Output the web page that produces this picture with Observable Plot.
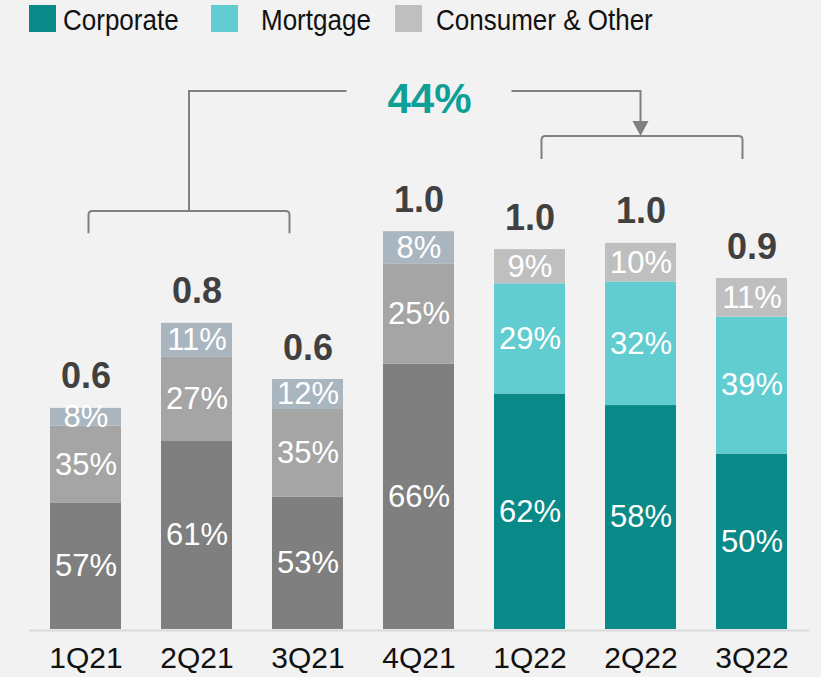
<!DOCTYPE html>
<html>
<head>
<meta charset="utf-8">
<script src="https://cdn.jsdelivr.net/npm/d3@7"></script>
<script src="https://cdn.jsdelivr.net/npm/@observablehq/plot@0.6"></script>
<style>
  html, body { margin: 0; padding: 0; background: #f2f2f2; }
  #wrap { width: 821px; height: 677px; position: relative; background: #f2f2f2; font-family: "Liberation Sans", Arial, sans-serif; }
  #legend { position: relative; width: 821px; height: 40px; }
  .sw { position: absolute; top: 5px; width: 27px; height: 27px; }
  .lt { position: absolute; top: 5px; font-size: 26px; line-height: 30px; color: #111; white-space: nowrap; transform: scaleY(1.12); transform-origin: left center; }
  svg { display: block; }
</style>
</head>
<body>
<div id="wrap">
  <div id="legend"></div>
  <div id="chart"></div>
</div>
<script>
// ---- data ----
const quarters = ["1Q21", "2Q21", "3Q21", "4Q21", "1Q22", "2Q22", "3Q22"];
const totals = [0.567, 0.785, 0.641, 1.02, 0.974, 0.99, 0.90];
const corporatePct = [57, 61, 53, 66, 62, 58, 50];
const mortgagePct = [35, 27, 35, 25, 29, 32, 39];
const consumerPct = [8, 11, 12, 8, 9, 10, 11];
const seriesNames = ["Corporate", "Mortgage", "Consumer & Other"];
const growthLabel = "44%";

// ---- styles ----
const colors2022 = ["#098a88", "#62cdd0", "#bfbfbf"];
const colors2021 = ["#7f7f7f", "#a5a5a5", "#a9b6c0"];
const font = "'Liberation Sans', Arial, sans-serif";

// legend (HTML, above the SVG)
const legendPos = [[29, 63], [211, 261], [395, 436]];
const legend = document.getElementById("legend");
seriesNames.forEach((name, k) => {
  const sw = document.createElement("div");
  sw.className = "sw";
  sw.style.left = legendPos[k][0] + "px";
  sw.style.background = colors2022[k];
  legend.appendChild(sw);
  const t = document.createElement("div");
  t.className = "lt";
  t.style.left = legendPos[k][1] + "px";
  t.textContent = name;
  legend.appendChild(t);
});

const rows = quarters.flatMap((q, i) => {
  const pcts = [corporatePct[i], mortgagePct[i], consumerPct[i]];
  const sum = d3.sum(pcts);
  const pal = q.endsWith("21") ? colors2021 : colors2022;
  return pcts.map((p, k) => ({q, k, pct: p, value: totals[i] * p / sum, fill: pal[k]}));
});
const totalRows = quarters.map((q, i) => ({q, total: totals[i]}));

// annotation (brackets + arrow), positioned through the plot's scales
function annotation(index, scales) {
  const x = scales.x, y = scales.y;
  let bw = typeof x.bandwidth === "function" ? x.bandwidth() : x.bandwidth;
  if (!(bw > 0)) bw = (x(quarters[1]) - x(quarters[0])) * 0.64;
  const cx = q => x(q) + bw / 2;
  const r = 4;
  const g = d3.create("svg:g").attr("fill", "none").attr("stroke", "#808080").attr("stroke-width", 2);
  // left bracket over 2021 Q1-Q3
  const la = cx("1Q21") + 3, lb = cx("3Q21") - 18, lm = (la + lb) / 2;
  const lY = y(1.072), lT = y(1.015);
  g.append("path").attr("d", `M${la},${lT}L${la},${lY + r}Q${la},${lY} ${la + r},${lY}L${lb - r},${lY}Q${lb},${lY} ${lb},${lY + r}L${lb},${lT}`);
  const topY = y(1.3795);
  const tx = cx("4Q21") + 11;
  g.append("path").attr("d", `M${lm},${lY}L${lm},${topY}L${tx - 83},${topY}`);
  // right part with arrow
  const ax = cx("2Q22");
  const rY = y(1.264), rT = y(1.205);
  g.append("path").attr("d", `M${tx + 82},${topY}L${ax},${topY}L${ax},${rY - 14}`);
  g.append("path").attr("fill", "#808080").attr("stroke", "none")
    .attr("d", `M${ax - 8},${rY - 15}L${ax + 8},${rY - 15}L${ax},${rY}Z`);
  const ra = cx("1Q22") + 12, rb = cx("3Q22") - 9;
  g.append("path").attr("d", `M${ra},${rT}L${ra},${rY + r}Q${ra},${rY} ${ra + r},${rY}L${rb - r},${rY}Q${rb},${rY} ${rb},${rY + r}L${rb},${rT}`);
  g.append("text").attr("x", tx).attr("y", y(1.323)).attr("text-anchor", "middle")
    .attr("fill", "#0e9f97").attr("stroke", "none").attr("font-size", 42).attr("font-weight", "bold")
    .attr("font-family", font).text(growthLabel);
  return g.node();
}

const chart = Plot.plot({
  width: 821,
  height: 637,
  marginTop: 4,
  marginBottom: 48,
  marginLeft: 29,
  marginRight: 12,
  style: {background: "#f2f2f2", fontFamily: font, color: "#111", overflow: "visible"},
  x: {domain: quarters, paddingInner: 0.36, paddingOuter: 0.18, label: null},
  y: {domain: [0, 1.5], axis: null},
  color: {type: "identity"},
  marks: [
    Plot.barY(rows, {x: "q", y: "value", fill: "fill"}),
    Plot.ruleY([0], {stroke: "#d9d9d9", strokeWidth: 2, dy: 1}),
    Plot.text(rows, Plot.stackY({x: "q", y: "value", text: d => d.pct + "%", fill: "white", fontSize: 31})),
    Plot.text(totalRows, {x: "q", y: "total", text: d => d.total.toFixed(1), dy: -20, lineAnchor: "bottom",
      fontSize: 36, fontWeight: "bold", fill: "#404040"}),
    Plot.axisX({tickSize: 0, tickPadding: 17, fontSize: 30, label: null}),
    annotation
  ]
});
document.getElementById("chart").appendChild(chart);
</script>
</body>
</html>
